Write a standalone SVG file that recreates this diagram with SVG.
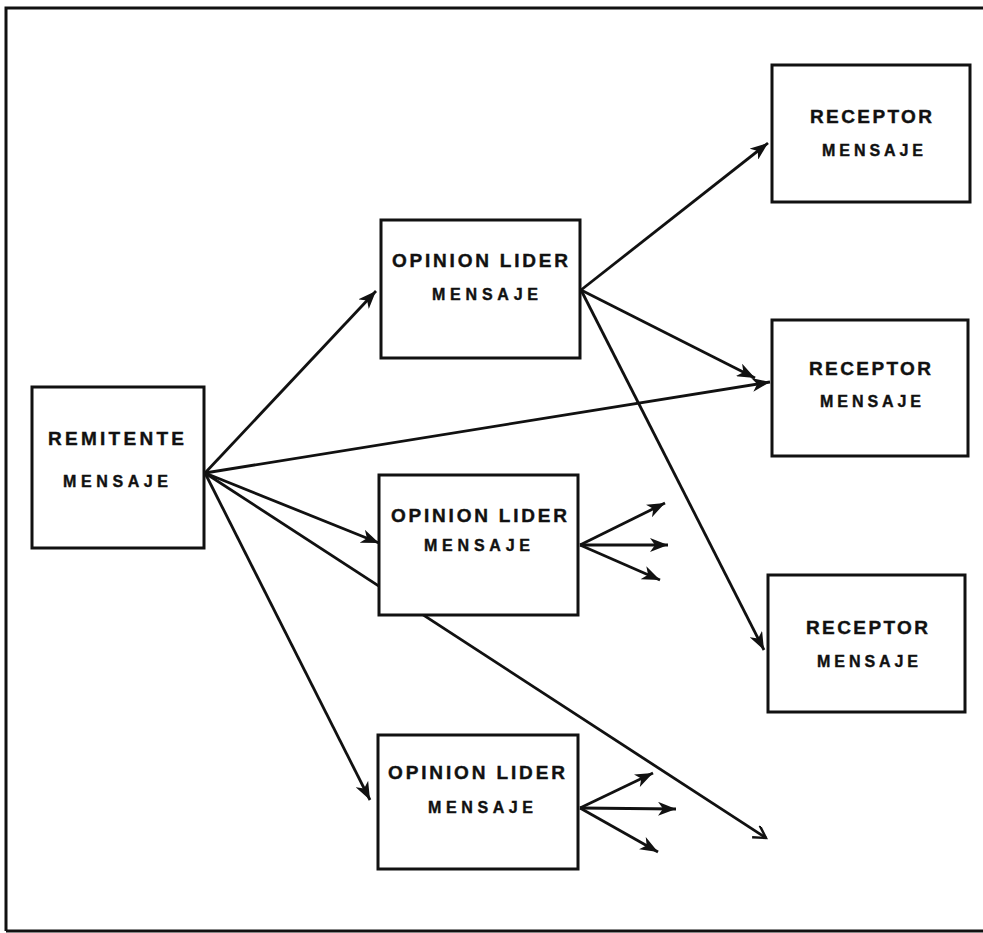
<svg xmlns="http://www.w3.org/2000/svg" width="983" height="933" viewBox="0 0 983 933">
<style>
.box{fill:#fff;stroke:#111;stroke-width:3}
.ln{stroke:#111;stroke-width:2.8;fill:none}
.t1{font-family:"Liberation Sans",Arial,sans-serif;font-weight:bold;font-size:19px;fill:#111;stroke:#111;stroke-width:0.4}
.t2{font-family:"Liberation Sans",Arial,sans-serif;font-weight:bold;font-size:16px;fill:#111;stroke:#111;stroke-width:0.4}
</style>
<defs>
<marker id="ah" markerUnits="userSpaceOnUse" markerWidth="20" markerHeight="14" refX="18" refY="7" orient="auto">
<path d="M0,0 L18,7 L0,14 L5,7 z" fill="#111"/>
</marker>
<marker id="ao" markerUnits="userSpaceOnUse" markerWidth="18" markerHeight="16" refX="14" refY="7" orient="auto">
<path d="M2,0 L14,7 L2,14" fill="none" stroke="#111" stroke-width="2.4"/>
</marker>
</defs>
<rect width="983" height="933" fill="#fff"/>
<path d="M6,931 L6,8 L990,8 M6,931 L990,931" fill="none" stroke="#111" stroke-width="3"/>
<g id="connectors">
<line class="ln" x1="205" y1="473" x2="376" y2="291" marker-end="url(#ah)"/>
<line class="ln" x1="205" y1="473" x2="770" y2="382" marker-end="url(#ah)"/>
<line class="ln" x1="205" y1="473" x2="379" y2="543" marker-end="url(#ah)"/>
<line class="ln" x1="205" y1="473" x2="766" y2="838" marker-end="url(#ao)"/>
<line class="ln" x1="205" y1="473" x2="370" y2="800" marker-end="url(#ah)"/>
<line class="ln" x1="581" y1="290" x2="768" y2="143" marker-end="url(#ah)"/>
<line class="ln" x1="581" y1="290" x2="755" y2="378" marker-end="url(#ah)"/>
<line class="ln" x1="581" y1="290" x2="764" y2="650" marker-end="url(#ah)"/>
<line class="ln" x1="580" y1="545" x2="665" y2="503" marker-end="url(#ah)"/>
<line class="ln" x1="580" y1="545" x2="668" y2="545" marker-end="url(#ah)"/>
<line class="ln" x1="580" y1="545" x2="660" y2="580" marker-end="url(#ah)"/>
<line class="ln" x1="580" y1="808" x2="653" y2="773" marker-end="url(#ah)"/>
<line class="ln" x1="580" y1="808" x2="676" y2="809" marker-end="url(#ah)"/>
<line class="ln" x1="580" y1="808" x2="658" y2="852" marker-end="url(#ah)"/>
</g>
<g id="remitente">
<rect class="box" x="32" y="387" width="172" height="161"/>
<text class="t1" x="48" y="445" textLength="136" lengthAdjust="spacing">REMITENTE</text>
<text class="t2" x="63" y="487" textLength="105" lengthAdjust="spacing">MENSAJE</text>
</g>
<g id="opinion1">
<rect class="box" x="381" y="220" width="199" height="138"/>
<text class="t1" x="392" y="267" textLength="176" lengthAdjust="spacing">OPINION LIDER</text>
<text class="t2" x="432" y="300" textLength="106" lengthAdjust="spacing">MENSAJE</text>
</g>
<g id="opinion2">
<rect class="box" x="379" y="475" width="199" height="140"/>
<text class="t1" x="391" y="522" textLength="176" lengthAdjust="spacing">OPINION LIDER</text>
<text class="t2" x="424" y="551" textLength="106" lengthAdjust="spacing">MENSAJE</text>
</g>
<g id="opinion3">
<rect class="box" x="378" y="735" width="200" height="134"/>
<text class="t1" x="388" y="779" textLength="177" lengthAdjust="spacing">OPINION LIDER</text>
<text class="t2" x="428" y="813" textLength="105" lengthAdjust="spacing">MENSAJE</text>
</g>
<g id="receptor1">
<rect class="box" x="772" y="65" width="198" height="137"/>
<text class="t1" x="810" y="123" textLength="122" lengthAdjust="spacing">RECEPTOR</text>
<text class="t2" x="822" y="156" textLength="101" lengthAdjust="spacing">MENSAJE</text>
</g>
<g id="receptor2">
<rect class="box" x="772" y="320" width="196" height="136"/>
<text class="t1" x="809" y="375" textLength="122" lengthAdjust="spacing">RECEPTOR</text>
<text class="t2" x="820" y="407" textLength="101" lengthAdjust="spacing">MENSAJE</text>
</g>
<g id="receptor3">
<rect class="box" x="768" y="575" width="197" height="137"/>
<text class="t1" x="806" y="634" textLength="122" lengthAdjust="spacing">RECEPTOR</text>
<text class="t2" x="817" y="667" textLength="101" lengthAdjust="spacing">MENSAJE</text>
</g>
</svg>
